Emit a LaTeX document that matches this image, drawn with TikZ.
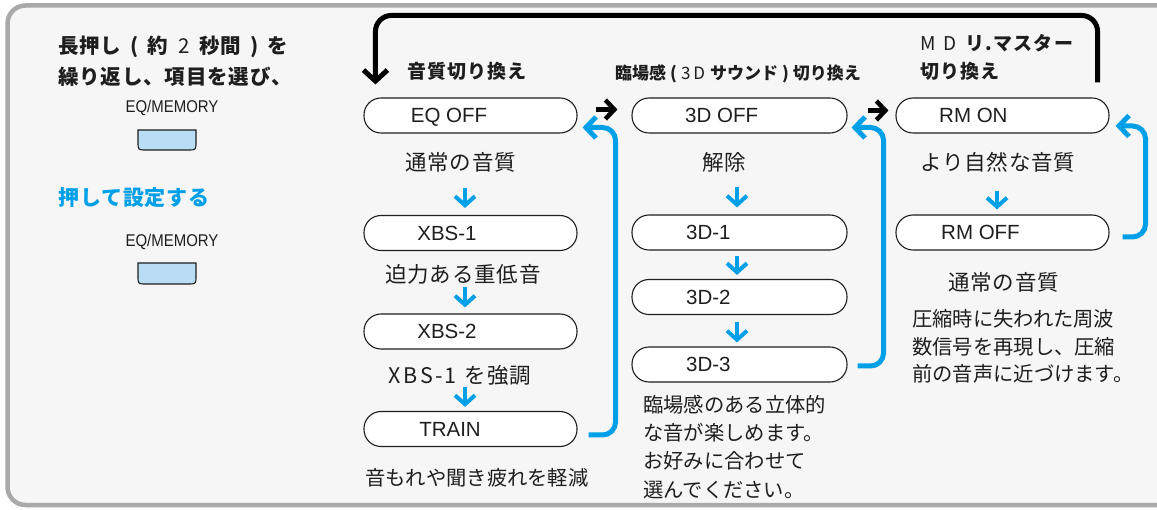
\documentclass[tikz,border=0pt]{standalone}
\usepackage{fontspec}
\usepackage{graphicx}
\setmainfont{Liberation Sans}
\newfontfamily\jpA{Noto Sans CJK JP}
\newfontfamily\jpB{Noto Sans CJK JP}[LetterSpace=4]
\newfontfamily\jpC{Noto Sans CJK JP}[LetterSpace=6]
\usetikzlibrary{arrows.meta,calc}
\definecolor{bgc}{HTML}{F6F6F6}
\definecolor{framec}{HTML}{A9A9A9}
\definecolor{blu}{HTML}{00A0E9}
\definecolor{btn}{HTML}{B9DDF4}
\definecolor{ink}{HTML}{1E1E1E}
\tikzset{
  pill/.style={draw=ink, line width=1.1pt, fill=white, rounded corners=17pt, minimum height=35pt, inner sep=0pt},
  ptext/.style={font=\fontsize{20.5}{24}\selectfont, text=ink, inner sep=0pt},
  lbl/.style={font=\jpB\fontsize{21.5}{24}\selectfont, text=ink, inner sep=0pt, anchor=base west},
  desc/.style={font=\jpA\fontsize{20.3}{28.3}\selectfont, text=ink, inner sep=0pt, anchor=base west, align=left},
  ttl/.style={font=\jpC\bfseries\fontsize{19}{24}\selectfont, text=ink, inner sep=0pt, anchor=base west},
  ttltwo/.style={font=\jpA\bfseries\fontsize{17}{22}\selectfont, text=ink, inner sep=0pt, anchor=base west},
  lefttxt/.style={font=\jpB\bfseries\fontsize{20.5}{32}\selectfont, text=ink, inner sep=0pt, anchor=base west},
  eqm/.style={font=\fontsize{17}{20}\selectfont, text=ink, inner sep=0pt, anchor=base},
  button/.style={draw=ink, line width=1.1pt, fill=btn},
  bluedown/.style={draw=blu, line width=4pt, -{Straight Barb[length=9pt,width=20pt]}},
  blueloop/.style={draw=blu, line width=5pt, rounded corners=13pt, -{Straight Barb[length=10pt,width=21pt]}},
  blackbig/.style={draw=black, line width=5pt, rounded corners=16pt, -{Straight Barb[length=11pt,width=24pt]}},
  blacksmall/.style={draw=black, line width=4.5pt, -{Straight Barb[length=9pt,width=19pt]}},
}
\begin{document}
\begin{tikzpicture}[x=1pt,y=-1pt]
\useasboundingbox (0,0) rectangle (1157,510);
\clip (0,0) rectangle (1157,510);
\fill[white] (0,0) rectangle (1157,510);
\draw[framec, line width=4.5pt, fill=bgc, rounded corners=18pt] (7.5,5.5) rectangle (1185,505);

% left instructions
\node[lefttxt] (l1) at (58,53.5) {長押し\kern9pt(\kern9pt約\kern10pt{\mdseries 2}\kern10pt秒間\kern9pt)\kern9pt を};
\node[lefttxt] (l2) at (58,85) {繰り返し、項目を選び、};
\node[eqm] (eq1) at (172,113) {\scalebox{0.88}[1]{EQ/MEMORY}};
\draw[button] (138,130) -- (138,142) .. controls (138,150) .. (146,150) -- (188,150) .. controls (196,150) .. (196,142) -- (196,130) -- cycle;
\node[lefttxt, text=blu, font=\jpB\bfseries\fontsize{21}{24}\selectfont] (set) at (58,205.5) {押して設定する};
\node[eqm] (eq2) at (172,247) {\scalebox{0.88}[1]{EQ/MEMORY}};
\draw[button] (138,263) -- (138,276) .. controls (138,284) .. (146,284) -- (188,284) .. controls (196,284) .. (196,276) -- (196,263) -- cycle;

% column 1
\node[ttl] (t1) at (407,79) {音質切り換え};
\node[pill, minimum width=213pt] (eqoff) at (470.5,115.5) {};
\node[ptext, anchor=base] (teqoff) at (449,123) {EQ OFF};
\node[lbl] (c1a) at (405,170.5) {通常の音質};
\node[pill, minimum width=213pt] (xbs1) at (470.5,233) {};
\node[ptext, anchor=base] (txbs1) at (447,240.5) {XBS-1};
\node[lbl] (c1b) at (385,282.5) {迫力ある重低音};
\node[pill, minimum width=213pt] (xbs2) at (470.5,331.5) {};
\node[ptext, anchor=base] (txbs2) at (447,339) {XBS-2};
\node[lbl] (c1c) at (388,384) {{\jpA X\kern3pt B\kern3pt S\kern2pt -\kern2pt 1}\kern8pt を強調};
\node[pill, minimum width=213pt] (train) at (470.5,429) {};
\node[ptext, anchor=base] (ttrain) at (450,436.5) {TRAIN};
\node[desc] (c1d) at (365,485.5) {音もれや聞き疲れを軽減};

\draw[bluedown] ($(xbs1.north)+(-5.5,-27)$) -- ($(xbs1.north)+(-5.5,-7)$);
\draw[bluedown] ($(xbs2.north)+(-5.5,-26)$) -- ($(xbs2.north)+(-5.5,-6)$);
\draw[bluedown] ($(train.north)+(-5.5,-24)$) -- ($(train.north)+(-5.5,-4)$);
\draw[blueloop] ($(train.east)+(11,6)$) -| ($(eqoff.east)+(38,12)$) -- ($(eqoff.east)+(5,12)$);

% column 2
\node[ttltwo] (t2) at (615,80) {臨場感\kern4pt(\kern4pt{\mdseries 3\kern3pt D}\kern5pt サウンド\kern4pt)\kern4pt 切り換え};
\node[pill, minimum width=215pt] (d3off) at (739.5,115.5) {};
\node[ptext, anchor=base west] (td3off) at (685,123) {3D OFF};
\node[lbl] (c2a) at (702,170.5) {解除};
\node[pill, minimum width=215pt] (d31) at (739.5,232.5) {};
\node[ptext, anchor=base west] (td31) at (686,240) {3D-1};
\node[pill, minimum width=215pt] (d32) at (739.5,297) {};
\node[ptext, anchor=base west] (td32) at (686,304.5) {3D-2};
\node[pill, minimum width=215pt] (d33) at (739.5,364.5) {};
\node[ptext, anchor=base west] (td33) at (686,372) {3D-3};
\node[desc] (c2d) at (643,497) {臨場感のある立体的\\な音が楽しめます。\\お好みに合わせて\\選んでください。};

\draw[bluedown] ($(d31.north)+(-2.5,-27)$) -- ($(d31.north)+(-2.5,-7)$);
\draw[bluedown] ($(d32.north)+(-2.5,-23)$) -- ($(d32.north)+(-2.5,-4)$);
\draw[bluedown] ($(d33.north)+(-2.5,-24)$) -- ($(d33.north)+(-2.5,-4)$);
\draw[blueloop] ($(d33.east)+(10,1.5)$) -| ($(d3off.east)+(36,12)$) -- ($(d3off.east)+(4,12)$);

% column 3
\node[ttl] (t3a) at (920,51) {{\mdseries M\kern8pt D}\kern9pt リ.マスター};
\node[ttl] (t3b) at (920,79) {切り換え};
\node[pill, minimum width=213pt] (rmon) at (1002.5,115.5) {};
\node[ptext, anchor=base west] (trmon) at (939,123) {RM ON};
\node[lbl] (c3a) at (920,170.5) {より自然な音質};
\node[pill, minimum width=213pt] (rmoff) at (1002.5,232.5) {};
\node[ptext, anchor=base west] (trmoff) at (941,240) {RM OFF};
\node[lbl] (c3b) at (948,290.5) {通常の音質};
\node[desc, font=\jpA\fontsize{20.3}{27.5}\selectfont] (c3d) at (912,382) {圧縮時に失われた周波\\数信号を再現し、圧縮\\前の音声に近づけます。};

\draw[bluedown] ($(rmoff.north)+(-5.5,-23)$) -- ($(rmoff.north)+(-5.5,-5)$);
\draw[blueloop] ($(rmoff.east)+(13,4.5)$) -| ($(rmon.east)+(36,10.5)$) -- ($(rmon.east)+(6,10.5)$);

% black arrows
\draw[blacksmall] ($(eqoff.east)+(18,-6)$) -- ($(d3off.west)+(-14,-6)$);
\draw[blacksmall] ($(d3off.east)+(20,-5)$) -- ($(rmon.west)+(-7,-5)$);
\draw[blackbig] ($(rmon.north east)+(-12,-15)$) |- ($(eqoff.north west)+(12,-82)$) -- ($(eqoff.north west)+(12,-13)$);
\end{tikzpicture}
\end{document}
